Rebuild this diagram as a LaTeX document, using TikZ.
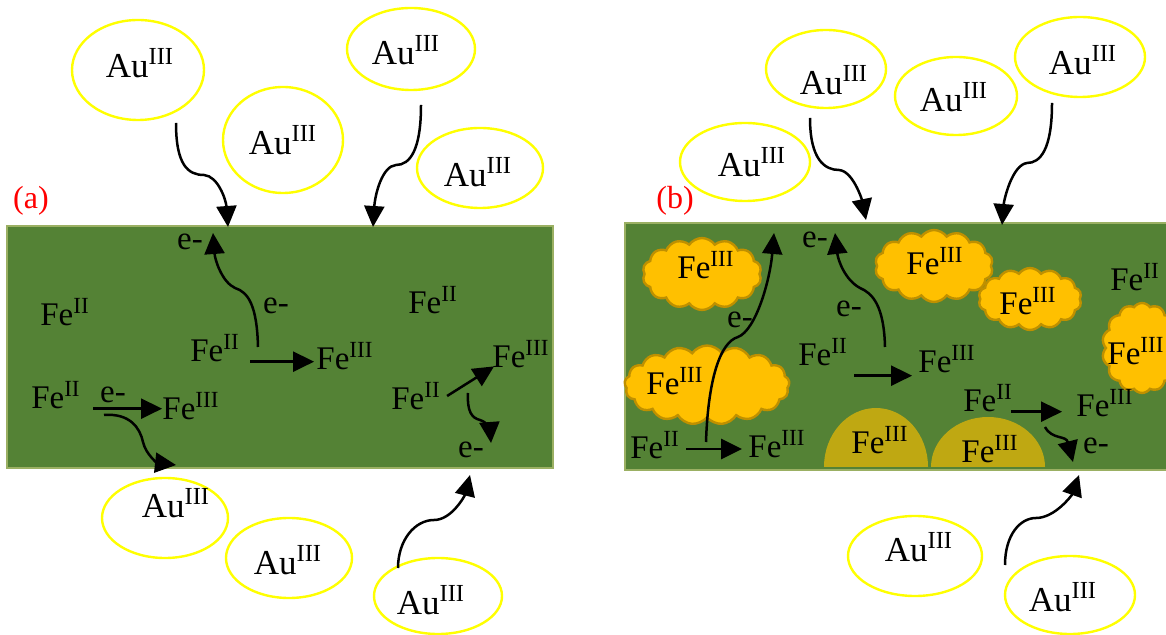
\documentclass[tikz,border=0pt]{standalone}
\usepackage{fontspec}
\setmainfont{Liberation Serif}
\usetikzlibrary{arrows.meta,shapes.geometric,shapes.symbols,calc}

\definecolor{matriz}{HTML}{548235}
\definecolor{borde}{HTML}{9BB063}
\definecolor{oro}{HTML}{FFC000}
\definecolor{orooscuro}{HTML}{BF9000}
\definecolor{oliva}{HTML}{BFA812}
\definecolor{amarillo}{HTML}{FFFF00}

\newcommand{\AuIII}{Au\textsuperscript{III}}
\newcommand{\FeII}{Fe\textsuperscript{II}}
\newcommand{\FeIII}{Fe\textsuperscript{III}}

\begin{document}
\begin{tikzpicture}[x=0.5pt, y=-0.5pt,
  >={Triangle[length=10.5pt,width=10pt]},
  ion/.style 2 args={ellipse, draw=amarillo, line width=1.2pt, minimum width=#1, minimum height=#2},
  au/.style={font=\fontsize{17.5}{20}\selectfont, inner sep=3pt},
  txt/.style={font=\fontsize{16.5}{19}\selectfont, inner sep=3pt},
  etiq/.style={text=red, font=\fontsize{16}{19}\selectfont},
  nube/.style 2 args={cloud, cloud puffs=14, cloud puff arc=110, cloud ignores aspect,
    fill=oro, draw=orooscuro, line width=1.2pt, minimum width=#1, minimum height=#2},
  flecha/.style={->, line width=1.25pt}]
  \useasboundingbox (0,0) rectangle (1166,635);
  \clip (0,0) rectangle (1166,635);

  % --- panel izquierdo (a) ---
  \begin{scope}
    \draw[fill=matriz, draw=borde, line width=1.2pt] (7,226) rectangle (553,468);
    \node[etiq] (la) at (31,201) {(a)};

    \node[ion={66pt}{50pt}] (a1) at (138,70) {};
    \node[ion={60pt}{53pt}] (a2) at (283,140) {};
    \node[ion={64pt}{41pt}] (a3) at (411,49) {};
    \node[ion={63pt}{40pt}] (a4) at (480,168) {};
    \node[ion={63pt}{40pt}] (a5) at (165,518) {};
    \node[ion={63pt}{40pt}] (a6) at (289,558) {};
    \node[ion={64pt}{38pt}] (a7) at (438,596) {};
    \node[au] (ta1) at (140,63) {\AuIII};
    \node[au] (ta2) at (283,140) {\AuIII};
    \node[au] (ta3) at (406,50) {\AuIII};
    \node[au] (ta4) at (478,172) {\AuIII};
    \node[au] (ta5) at (176,503) {\AuIII};
    \node[au] (ta6) at (288,560) {\AuIII};
    \node[au] (ta7) at (431,600) {\AuIII};

    \coordinate (s1) at (176,123);
    \coordinate (t1) at (228,227);
    \coordinate (s2) at (421,105);
    \coordinate (t2) at (373,227);
    \coordinate (s3) at (398,568);
    \coordinate (t3) at (470,475);
    \draw[flecha] (s1) .. controls (176,165) and (188,175) .. (204,175)
                       .. controls (218,176) and (226,200) .. (t1);
    \draw[flecha] (s2) .. controls (421,150) and (410,165) .. (396,165)
                       .. controls (382,166) and (375,195) .. (t2);
    \draw[flecha] (s3) .. controls (398,540) and (415,520) .. (434,520)
                       .. controls (452,520) and (465,495) .. (t3);

    \node[txt] (b1) at (65,312) {\FeII};
    \node[txt] (b2) at (215,348) {\FeII};
    \node[txt] (b3) at (345,356) {\FeIII};
    \node[txt] (b4) at (433,300) {\FeII};
    \node[txt] (b5) at (56,395) {\FeII};
    \node[txt] (b6) at (191,406) {\FeIII};
    \node[txt] (b7) at (416,396) {\FeII};
    \node[txt] (b8) at (521,354) {\FeIII};
    \node[txt] (e1) at (190,242) {e-};
    \node[txt] (e2) at (276,306) {e-};
    \node[txt] (e3) at (113,395) {e-};
    \node[txt] (e4) at (471,450) {e-};

    \draw[flecha] ([xshift=2pt]b2.base east) -- ([xshift=2pt]b2.base east -| b3.west);
    \draw[flecha] ([xshift=3pt]b5.base east) -- ([xshift=3pt]b5.base east -| b6.west);
    \draw[flecha] (b7.east) -- ($(b8.south west)+(8,-8)$);

    \coordinate (s4) at (258,347);
    \coordinate (t4) at (213,233);
    \coordinate (s5) at (104,415);
    \coordinate (t5) at (176,465);
    \coordinate (s6) at (468,393);
    \coordinate (t6) at (491,443);
    \draw[flecha] (s4) .. controls (257,305) and (248,292) .. (235,288)
                       .. controls (222,282) and (215,260) .. (t4);
    \draw[flecha] (s5) .. controls (130,413) and (140,428) .. (143,442)
                       .. controls (146,455) and (158,463) .. (t5);
    \draw[flecha] (s6) .. controls (467,412) and (472,418) .. (480,420)
                       .. controls (487,422) and (490,430) .. (t6);
  \end{scope}

  % --- panel derecho (b) ---
  \begin{scope}
    \draw[fill=matriz, draw=borde, line width=1.2pt] (625,223) rectangle (1172,470);
    \node[etiq] (lb) at (675,201) {(b)};

    \node[ion={60pt}{39pt}] (f1) at (826,69) {};
    \node[ion={61pt}{39pt}] (f2) at (956,96) {};
    \node[ion={65pt}{40pt}] (f3) at (1080,57) {};
    \node[ion={65pt}{39pt}] (f4) at (745,162) {};
    \node[ion={67pt}{40pt}] (f5) at (915,556) {};
    \node[ion={65pt}{39pt}] (f6) at (1070,595) {};
    \node[au] (tf1) at (834,80) {\AuIII};
    \node[au] (tf2) at (954,97) {\AuIII};
    \node[au] (tf3) at (1083,60) {\AuIII};
    \node[au] (tf4) at (752,162) {\AuIII};
    \node[au] (tf5) at (919,547) {\AuIII};
    \node[au] (tf6) at (1063,597) {\AuIII};

    \coordinate (u1) at (810,118);
    \coordinate (v1) at (866,220);
    \coordinate (u2) at (1052,103);
    \coordinate (v2) at (1002,225);
    \coordinate (u3) at (1005,565);
    \coordinate (v3) at (1079,475);
    \draw[flecha] (u1) .. controls (810,160) and (825,170) .. (839,170)
                       .. controls (853,171) and (862,200) .. (v1);
    \draw[flecha] (u2) .. controls (1052,150) and (1040,163) .. (1027,163)
                       .. controls (1012,165) and (1004,200) .. (v2);
    \draw[flecha] (u3) .. controls (1005,535) and (1020,518) .. (1036,518)
                       .. controls (1055,518) and (1072,495) .. (v3);

    % nubes y depositos de Fe(III)
    \node[nube={59.5pt}{36pt}] (c1) at (702,274) {};
    \node[nube={82.5pt}{39.5pt}, cloud puffs=17] (c2) at (707,385) {};
    \node[nube={59pt}{36pt}] (c3) at (934,266) {};
    \node[nube={51.5pt}{31pt}] (c4) at (1030,299) {};
    \node[nube={40pt}{45pt}] (c5) at (1142,348) {};
    \fill[oliva] (824,467) arc[start angle=180, end angle=0, x radius=26pt, y radius=29.5pt] -- cycle;
    \fill[oliva] (931,467) arc[start angle=180, end angle=0, x radius=28.5pt, y radius=25pt] -- cycle;

    \node[txt] (g1) at (706,265) {\FeIII};
    \node[txt] (g2) at (675,381) {\FeIII};
    \node[txt] (g3) at (935,261) {\FeIII};
    \node[txt] (g4) at (1028,301) {\FeIII};
    \node[txt] (g5) at (1136,351) {\FeIII};
    \node[txt] (g6) at (880,440) {\FeIII};
    \node[txt] (g7) at (990,449) {\FeIII};
    \node[txt] (h1) at (1135,277) {\FeII};
    \node[txt] (h2) at (655,445) {\FeII};
    \node[txt] (h3) at (777,444) {\FeIII};
    \node[txt] (h4) at (823,352) {\FeII};
    \node[txt] (h5) at (947,359) {\FeIII};
    \node[txt] (h6) at (988,398) {\FeII};
    \node[txt] (h7) at (1105,403) {\FeIII};
    \node[txt] (k1) at (740,320) {e-};
    \node[txt] (k2) at (815,240) {e-};
    \node[txt] (k3) at (849,309) {e-};
    \node[txt] (k4) at (1096,446) {e-};

    \draw[flecha] ([yshift=-2pt]h2.east) -- ([yshift=-2pt]h2.east -| h3.west);
    \draw[flecha] ([yshift=-5pt]h4.base east) -- ([yshift=-5pt]h4.base east -| h5.west);
    \draw[flecha] ([xshift=-4pt]h6.base east) -- ([xshift=-4pt]h6.base east -| h7.west);

    \coordinate (u4) at (706,442);
    \coordinate (v4) at (774,233);
    \coordinate (u5) at (885,347);
    \coordinate (v5) at (835,233);
    \coordinate (u6) at (1045,427);
    \coordinate (v6) at (1073,462);
    \draw[flecha] (u4) .. controls (708,380) and (720,342) .. (738,337)
                       .. controls (756,330) and (770,280) .. (v4);
    \draw[flecha] (u5) .. controls (884,305) and (872,293) .. (860,288)
                       .. controls (845,280) and (838,260) .. (v5);
    \draw[flecha] (u6) .. controls (1052,440) and (1066,435) .. (v6);
  \end{scope}
\end{tikzpicture}
\end{document}
